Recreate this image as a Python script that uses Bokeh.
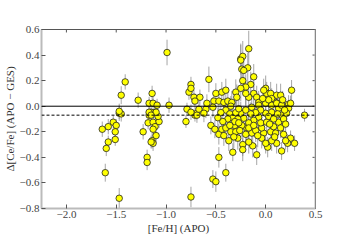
from bokeh.plotting import figure
from bokeh.models import Range1d, Span, FixedTicker, ColumnDataSource
from bokeh.embed import file_html
from bokeh.resources import INLINE

# [Fe/H] (APO), Delta[Ce/Fe], error
fe_h = [-1.64, -1.58, -1.58, -1.60, -1.61, -1.47, -1.53, -1.50, -1.51, -1.51, -1.47, -1.45, -1.41, -1.45, -1.47,
        -1.28, -1.23, -1.18, -1.17, -1.13, -1.11, -1.13, -1.10, -1.14, -1.13, -1.15, -1.19, -1.19, -1.07, -1.08,
        -1.11, -1.15, -1.14, -1.17, -1.13, -1.09, -1.17, -1.10, -1.15, -0.99, -0.97,
        -0.75, -0.53, -0.50, -0.47, -0.40, -0.33, -0.80, -0.79, -0.71, -0.69, -0.55, -0.51, -0.47, -0.42, -0.44,
        -0.40, -0.35, -0.30, -0.31,
        -0.57, -0.75, -0.77, -0.75, -0.72, -0.66, -0.71, -0.75, -0.69, -0.67, -0.60, -0.59, -0.52, -0.50, -0.44,
        -0.40, -0.53, -0.47, -0.42, -0.38, -0.34, -0.30, -0.29, -0.25, -0.24, -0.62,
        -0.17, -0.23, -0.25, -0.18, -0.22, -0.12, -0.15, -0.23, 0.26, 0.23, -0.20, -0.25, -0.12, 0.00, 0.01,
        0.05, -0.02, 0.11, 0.15, 0.10, 0.06, -0.09, -0.07, -0.17, -0.20,
        0.39, 0.29, 0.25, 0.22, 0.20, 0.16, 0.11, 0.06, 0.02, 0.00, -0.09, -0.13, -0.17, -0.23, -0.23,
        -0.14, -0.19, -0.02, -0.04, 0.05, 0.08, 0.13, 0.16, 0.23, 0.21, 0.25, 0.13, 0.06, 0.00, -0.07,
        -0.12, -0.17, -0.22, -0.25, -0.20, -0.14, -0.07, 0.00, 0.06, 0.11, 0.16, -0.24, -0.17, -0.10, -0.05,
        0.01, 0.10, -0.04, 0.15,
        -0.40, -0.36, -0.33, -0.30, -0.28, -0.27, -0.35, -0.31, -0.38, -0.45, -0.48, -0.43, -0.36, -0.26, -0.28,
        -0.32, -0.37,
        -0.05, 0.03, 0.08, 0.18, 0.20, -0.10, -0.15, 0.12, 0.03, -0.03, 0.17, 0.19, -0.27, -0.12, 0.04, 0.09,
        -0.08, -0.20, 0.18]
d_ce_fe = [-0.18, -0.16, -0.28, -0.33, -0.52, -0.72, -0.125, -0.15, -0.20, -0.26, -0.055, -0.06, 0.19, 0.086, -0.04,
           0.047, -0.20, -0.13, -0.07, -0.125, -0.16, -0.18, -0.23, -0.27, -0.29, -0.28, -0.40, -0.44, -0.12, -0.08,
           -0.047, -0.047, 0.10, 0.023, 0.023, 0.008, -0.047, -0.047, -0.07, 0.42, 0.008,
           -0.71, -0.57, -0.59, -0.40, -0.52, -0.36, -0.12, -0.023, -0.07, -0.055, -0.15, -0.18, -0.22, -0.23, -0.18,
           -0.17, -0.20, -0.20, -0.15,
           0.21, 0.17, 0.11, 0.14, 0.07, 0.07, 0.04, -0.047, -0.07, -0.023, -0.023, 0.023, 0.04, 0.10, 0.11,
           0.125, -0.008, 0.04, 0.03, 0.04, 0.03, 0.11, 0.07, 0.37, 0.29, -0.055,
           0.45, 0.39, 0.36, 0.30, 0.28, 0.23, 0.17, 0.20, 0.125, 0.016, 0.15, 0.14, 0.10, 0.14, 0.10,
           0.10, 0.125, 0.086, 0.086, 0.03, 0.06, 0.07, 0.03, 0.07, 0.10,
           -0.07, -0.29, -0.25, -0.29, -0.27, -0.35, -0.29, -0.27, -0.32, -0.29, -0.38, -0.31, -0.28, -0.30, -0.34,
           -0.21, -0.17, -0.21, -0.17, -0.20, -0.16, -0.125, -0.07, -0.016, -0.055, 0.023, -0.016, -0.047, -0.055, -0.086,
           -0.11, -0.13, -0.094, -0.055, -0.03, -0.008, 0.008, 0.023, 0.008, 0.023, 0.008, -0.15, -0.17, -0.19, -0.13,
           -0.125, -0.21, -0.25, -0.17,
           -0.03, -0.06, -0.09, -0.05, -0.10, -0.02, 0.00, -0.12, -0.10, -0.05, -0.09, -0.12, -0.15, -0.19, -0.25,
           -0.24, -0.27,
           -0.03, -0.08, -0.10, -0.10, -0.14, -0.05, -0.06, -0.06, 0.05, 0.06, 0.05, -0.03, -0.13, -0.15, -0.14, -0.24,
           -0.23, -0.22, -0.22]
err = [0.06, 0.06, 0.05, 0.06, 0.07, 0.08, 0.05, 0.05, 0.05, 0.05, 0.06, 0.06, 0.06, 0.07, 0.06,
       0.06, 0.06, 0.05, 0.05, 0.05, 0.05, 0.05, 0.06, 0.06, 0.06, 0.05, 0.06, 0.06, 0.05, 0.05,
       0.05, 0.05, 0.06, 0.05, 0.05, 0.05, 0.05, 0.05, 0.05, 0.10, 0.06,
       0.08, 0.07, 0.08, 0.08, 0.07, 0.07, 0.05, 0.05, 0.05, 0.05, 0.07, 0.07, 0.08, 0.08, 0.07,
       0.08, 0.08, 0.08, 0.08,
       0.10, 0.06, 0.06, 0.06, 0.06, 0.06, 0.06, 0.06, 0.06, 0.06, 0.07, 0.07, 0.08, 0.08, 0.08,
       0.09, 0.08, 0.08, 0.08, 0.08, 0.09, 0.10, 0.10, 0.12, 0.12, 0.07,
       0.14, 0.12, 0.12, 0.12, 0.12, 0.10, 0.10, 0.10, 0.08, 0.07, 0.10, 0.10, 0.09, 0.10, 0.09,
       0.09, 0.09, 0.09, 0.09, 0.08, 0.08, 0.09, 0.09, 0.09, 0.09,
       0.05, 0.06, 0.06, 0.07, 0.07, 0.07, 0.08, 0.08, 0.08, 0.08, 0.08, 0.09, 0.09, 0.09, 0.09,
       0.09, 0.09, 0.09, 0.09, 0.08, 0.08, 0.07, 0.07, 0.06, 0.06, 0.06, 0.07, 0.08, 0.08, 0.09,
       0.09, 0.09, 0.09, 0.09, 0.09, 0.09, 0.09, 0.09, 0.08, 0.08, 0.08, 0.09, 0.09, 0.09, 0.09,
       0.08, 0.08, 0.08, 0.08,
       0.08, 0.08, 0.09, 0.09, 0.09, 0.09, 0.08, 0.09, 0.08, 0.08, 0.08, 0.08, 0.08, 0.09, 0.09,
       0.09, 0.08,
       0.09, 0.08, 0.08, 0.07, 0.07, 0.09, 0.09, 0.08, 0.08, 0.09, 0.07, 0.07, 0.09, 0.09, 0.08, 0.08,
       0.09, 0.09, 0.07]

mean_offset = -0.07
x_ticks = [-2.0, -1.5, -1.0, -0.5, 0.0, 0.5]
y_ticks = [-0.8, -0.6, -0.4, -0.2, 0.0, 0.2, 0.4, 0.6]
X0, X1, Y0, Y1 = -2.25, 0.5, -0.8, 0.6


def lab(v):
    return ("%.1f" % v).replace("-", "\u2212")


n = min(len(fe_h), len(d_ce_fe), len(err))
src = ColumnDataSource(dict(
    x=fe_h[:n], y=d_ce_fe[:n],
    lo=[d_ce_fe[i] - err[i] for i in range(n)],
    hi=[d_ce_fe[i] + err[i] for i in range(n)],
))

FONT = "Liberation Serif"
p = figure(width=344, height=236, output_backend="svg", toolbar_location=None,
           x_range=Range1d(X0, X1), y_range=Range1d(Y0, Y1),
           min_border_left=37, min_border_top=29, min_border_right=29, min_border_bottom=27)
p.background_fill_color = "white"
p.border_fill_color = "white"
p.grid.visible = False
p.outline_line_color = "#555555"
p.outline_line_width = 1

p.segment("x", "lo", "x", "hi", source=src, line_color="#888888", line_alpha=0.75, line_width=1)
p.add_layout(Span(location=0.0, dimension="width", line_color="black", line_width=1))
p.add_layout(Span(location=mean_offset, dimension="width", line_color="black", line_width=1, line_dash="3 2"))
p.scatter("x", "y", source=src, size=6.5, fill_color="#ffff00", line_color="#222222", line_width=0.8)

# right spine (light grey, like left and bottom) and inward ticks on top/right
p.add_layout(Span(location=X1, dimension="height", line_color="#bbbbbb", line_width=2))
tick_len_y = (Y1 - Y0) * 3.0 / 180.0
tick_len_x = (X1 - X0) * 3.0 / 278.0
p.segment(x0=x_ticks, y0=[Y1] * len(x_ticks), x1=x_ticks, y1=[Y1 - tick_len_y] * len(x_ticks),
          line_color="#555555", line_width=1)
p.segment(x0=[X1] * len(y_ticks), y0=y_ticks, x1=[X1 - tick_len_x] * len(y_ticks), y1=y_ticks,
          line_color="#555555", line_width=1)

for ax, ticks in ((p.xaxis[0], x_ticks), (p.yaxis[0], y_ticks)):
    ax.ticker = FixedTicker(ticks=ticks)
    ax.major_label_overrides = {t: lab(t) for t in ticks}
    ax.major_tick_in = 4
    ax.major_tick_out = 0
    ax.minor_tick_line_color = None
    ax.major_tick_line_color = "#555555"
    ax.axis_line_color = "#bbbbbb"
    ax.axis_line_width = 2
    ax.major_label_text_font = FONT
    ax.major_label_text_font_size = "11px"
    ax.major_label_text_color = "#444444"
    ax.axis_label_text_font = FONT
    ax.axis_label_text_font_size = "11px"
    ax.axis_label_text_font_style = "normal"
    ax.axis_label_text_color = "#333333"
    ax.major_label_standoff = 2
    ax.axis_label_standoff = 1

p.xaxis[0].axis_label = "[Fe/H] (APO)"
p.yaxis[0].axis_label = "\u0394[Ce/Fe] (APO \u2212 GES)"

open("out.html", "w").write(file_html(p, INLINE))
